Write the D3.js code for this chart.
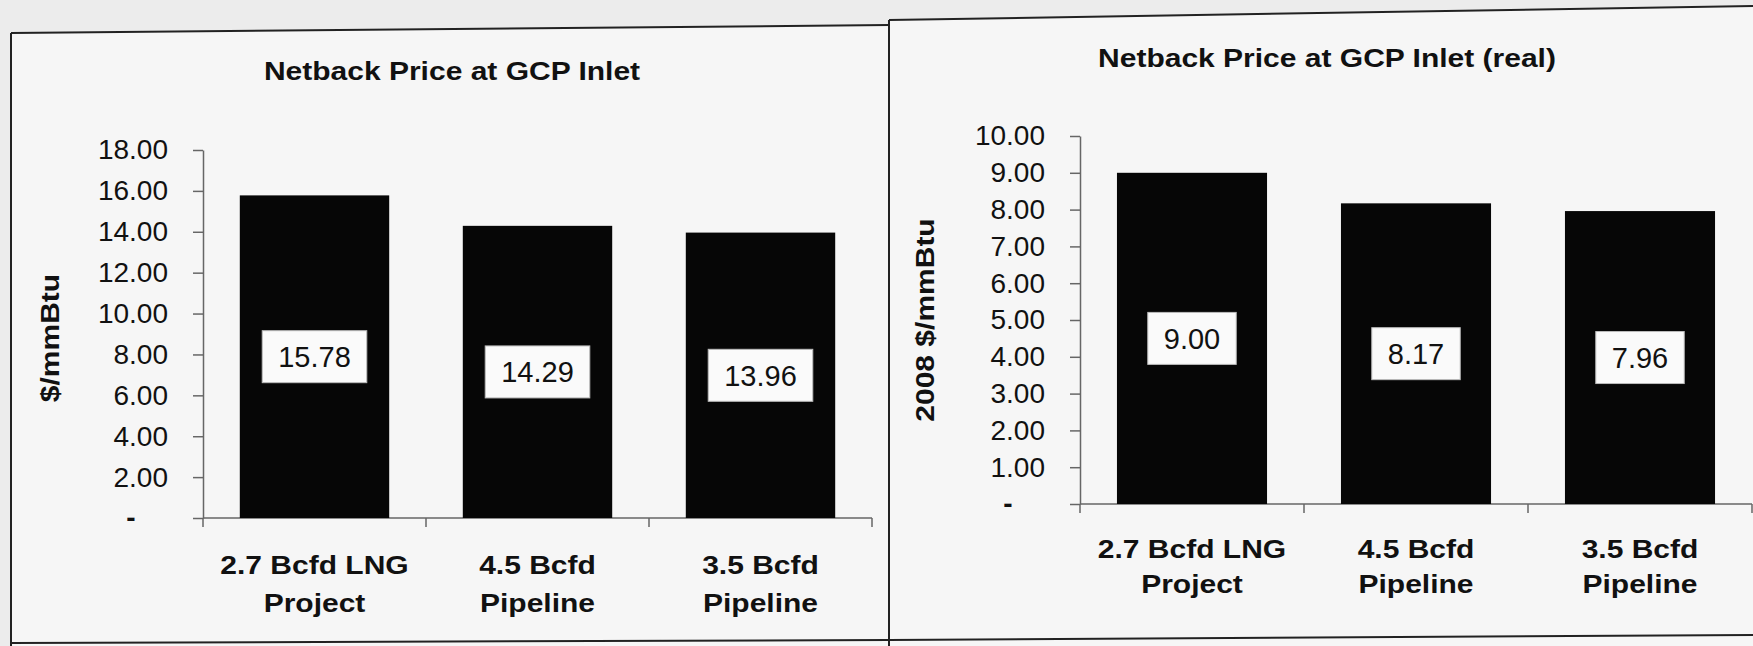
<!DOCTYPE html>
<meta charset="utf-8">
<style>
body { margin: 0; background: #ececec; }
svg { display: block; font-family: "Liberation Sans", Arial, sans-serif; }
.axis path, .axis line { stroke: #666; stroke-width: 1.5px; }
.axis text { font-size: 28px; fill: #111; }
.title, .cat, .ytitle { font-weight: bold; font-size: 25px; fill: #111; }
.val { font-size: 29px; fill: #111; }
</style>
<body>
<script src="https://cdn.jsdelivr.net/npm/d3@7"></script>
<script>

var categories = [["2.7 Bcfd LNG", "Project"], ["4.5 Bcfd", "Pipeline"], ["3.5 Bcfd", "Pipeline"]];
var nominalValues = [15.78, 14.29, 13.96];
var realValues = [9.00, 8.17, 7.96];
var nominalTicks = [0, 2, 4, 6, 8, 10, 12, 14, 16, 18];
var realTicks = [0, 1, 2, 3, 4, 5, 6, 7, 8, 9, 10];

var width = 1753, height = 646;

var svg = d3.select("body").append("svg")
    .attr("width", width)
    .attr("height", height);

// paper + scanned frame
svg.append("polygon")
    .attr("points", "11,33 889,25 889,646 11,646")
    .attr("fill", "#f6f6f6");
svg.append("polygon")
    .attr("points", "889,20 1753,6 1753,646 889,646")
    .attr("fill", "#f6f6f6");

var frame = [
  [[11, 33], [889, 25]],
  [[11, 33], [11, 646]],
  [[11, 643], [889, 640]],
  [[889, 20], [889, 646]],
  [[889, 20], [1753, 6]],
  [[889, 640], [1753, 635]]
];
svg.selectAll(".frame")
  .data(frame)
  .enter().append("line")
    .attr("class", "frame")
    .attr("x1", function(d) { return d[0][0]; })
    .attr("y1", function(d) { return d[0][1]; })
    .attr("x2", function(d) { return d[1][0]; })
    .attr("y2", function(d) { return d[1][1]; })
    .attr("stroke", "#222")
    .attr("stroke-width", 2);

drawPanel({
  values: nominalValues, ticks: nominalTicks, yMax: 18,
  x0: 203, x1: 872, yTop: 150, yBottom: 518,
  title: "Netback Price at GCP Inlet", titleX: 452, titleY: 80,
  yTitle: "$/mmBtu", yTitleX: 50, yTitleY: 338,
  catY: 574, catGap: 38
});

drawPanel({
  values: realValues, ticks: realTicks, yMax: 10,
  x0: 1080, x1: 1752, yTop: 136, yBottom: 504,
  title: "Netback Price at GCP Inlet (real)", titleX: 1327, titleY: 67,
  yTitle: "2008 $/mmBtu", yTitleX: 925, yTitleY: 320,
  catY: 558, catGap: 35
});

function drawPanel(c) {
  var g = svg.append("g");

  var x = d3.scaleBand()
      .domain(d3.range(categories.length))
      .range([c.x0, c.x1])
      .paddingInner(0.33)
      .paddingOuter(0.165);

  var y = d3.scaleLinear()
      .domain([0, c.yMax])
      .range([c.yBottom, c.yTop]);

  g.append("text")
      .attr("class", "title")
      .attr("text-anchor", "middle")
      .attr("transform", "translate(" + c.titleX + "," + c.titleY + ") scale(1.2,1)")
      .text(c.title);

  g.append("text")
      .attr("class", "ytitle")
      .attr("text-anchor", "middle")
      .attr("dominant-baseline", "central")
      .attr("transform", "translate(" + c.yTitleX + "," + c.yTitleY + ") rotate(-90) scale(1.2,1)")
      .text(c.yTitle);

  var yAxis = g.append("g")
      .attr("class", "axis")
      .attr("transform", "translate(" + c.x0 + ",0)")
      .call(d3.axisLeft(y)
        .tickValues(c.ticks)
        .tickSize(10)
        .tickSizeOuter(0)
        .tickPadding(25)
        .tickFormat(function(d) { return d === 0 ? "-" : d.toFixed(2); }));
  yAxis.selectAll(".tick text")
      .filter(function(d) { return d === 0; })
      .attr("x", -72)
      .attr("text-anchor", "middle")
      .style("font-weight", "bold");

  // x axis line with ticks between categories
  var xAxis = g.append("g").attr("class", "axis");
  xAxis.append("path")
      .attr("d", "M" + c.x0 + "," + y(0) + "H" + c.x1)
      .attr("fill", "none");
  xAxis.selectAll("line")
    .data(d3.range(categories.length + 1))
    .enter().append("line")
      .attr("x1", function(i) { return c.x0 + i * x.step(); })
      .attr("x2", function(i) { return c.x0 + i * x.step(); })
      .attr("y1", y(0))
      .attr("y2", y(0) + 9);

  g.selectAll(".bar")
    .data(c.values)
    .enter().append("rect")
      .attr("class", "bar")
      .attr("x", function(d, i) { return x(i); })
      .attr("y", function(d) { return y(d); })
      .attr("width", x.bandwidth())
      .attr("height", function(d) { return y(0) - y(d); })
      .attr("fill", "#060606");

  var labels = g.selectAll(".lab")
    .data(c.values)
    .enter().append("g")
      .attr("class", "lab")
      .attr("transform", function(d, i) {
        return "translate(" + (x(i) + x.bandwidth() / 2) + "," + ((y(0) + y(d)) / 2) + ")";
      });
  var box = labels.append("rect");
  var txt = labels.append("text")
      .attr("class", "val")
      .attr("text-anchor", "middle")
      .attr("dy", "0.36em")
      .text(function(d) { return d.toFixed(2); });
  box.each(function(d, i) {
    var w = txt.nodes()[i].getComputedTextLength() + 32;
    d3.select(this)
      .attr("x", -w / 2)
      .attr("y", -26)
      .attr("width", w)
      .attr("height", 52)
      .attr("fill", "#fafafa")
      .attr("stroke", "#bbb");
  });

  var cats = g.selectAll(".cat")
    .data(categories)
    .enter().append("g")
      .attr("class", "cat");
  cats.selectAll("text")
    .data(function(d, i) { return d.map(function(s, k) { return {s: s, i: i, k: k}; }); })
    .enter().append("text")
      .attr("text-anchor", "middle")
      .attr("transform", function(d) {
        return "translate(" + (x(d.i) + x.bandwidth() / 2) + "," + (c.catY + d.k * c.catGap) + ") scale(1.2,1)";
      })
      .text(function(d) { return d.s; });
}

</script>
</body>
